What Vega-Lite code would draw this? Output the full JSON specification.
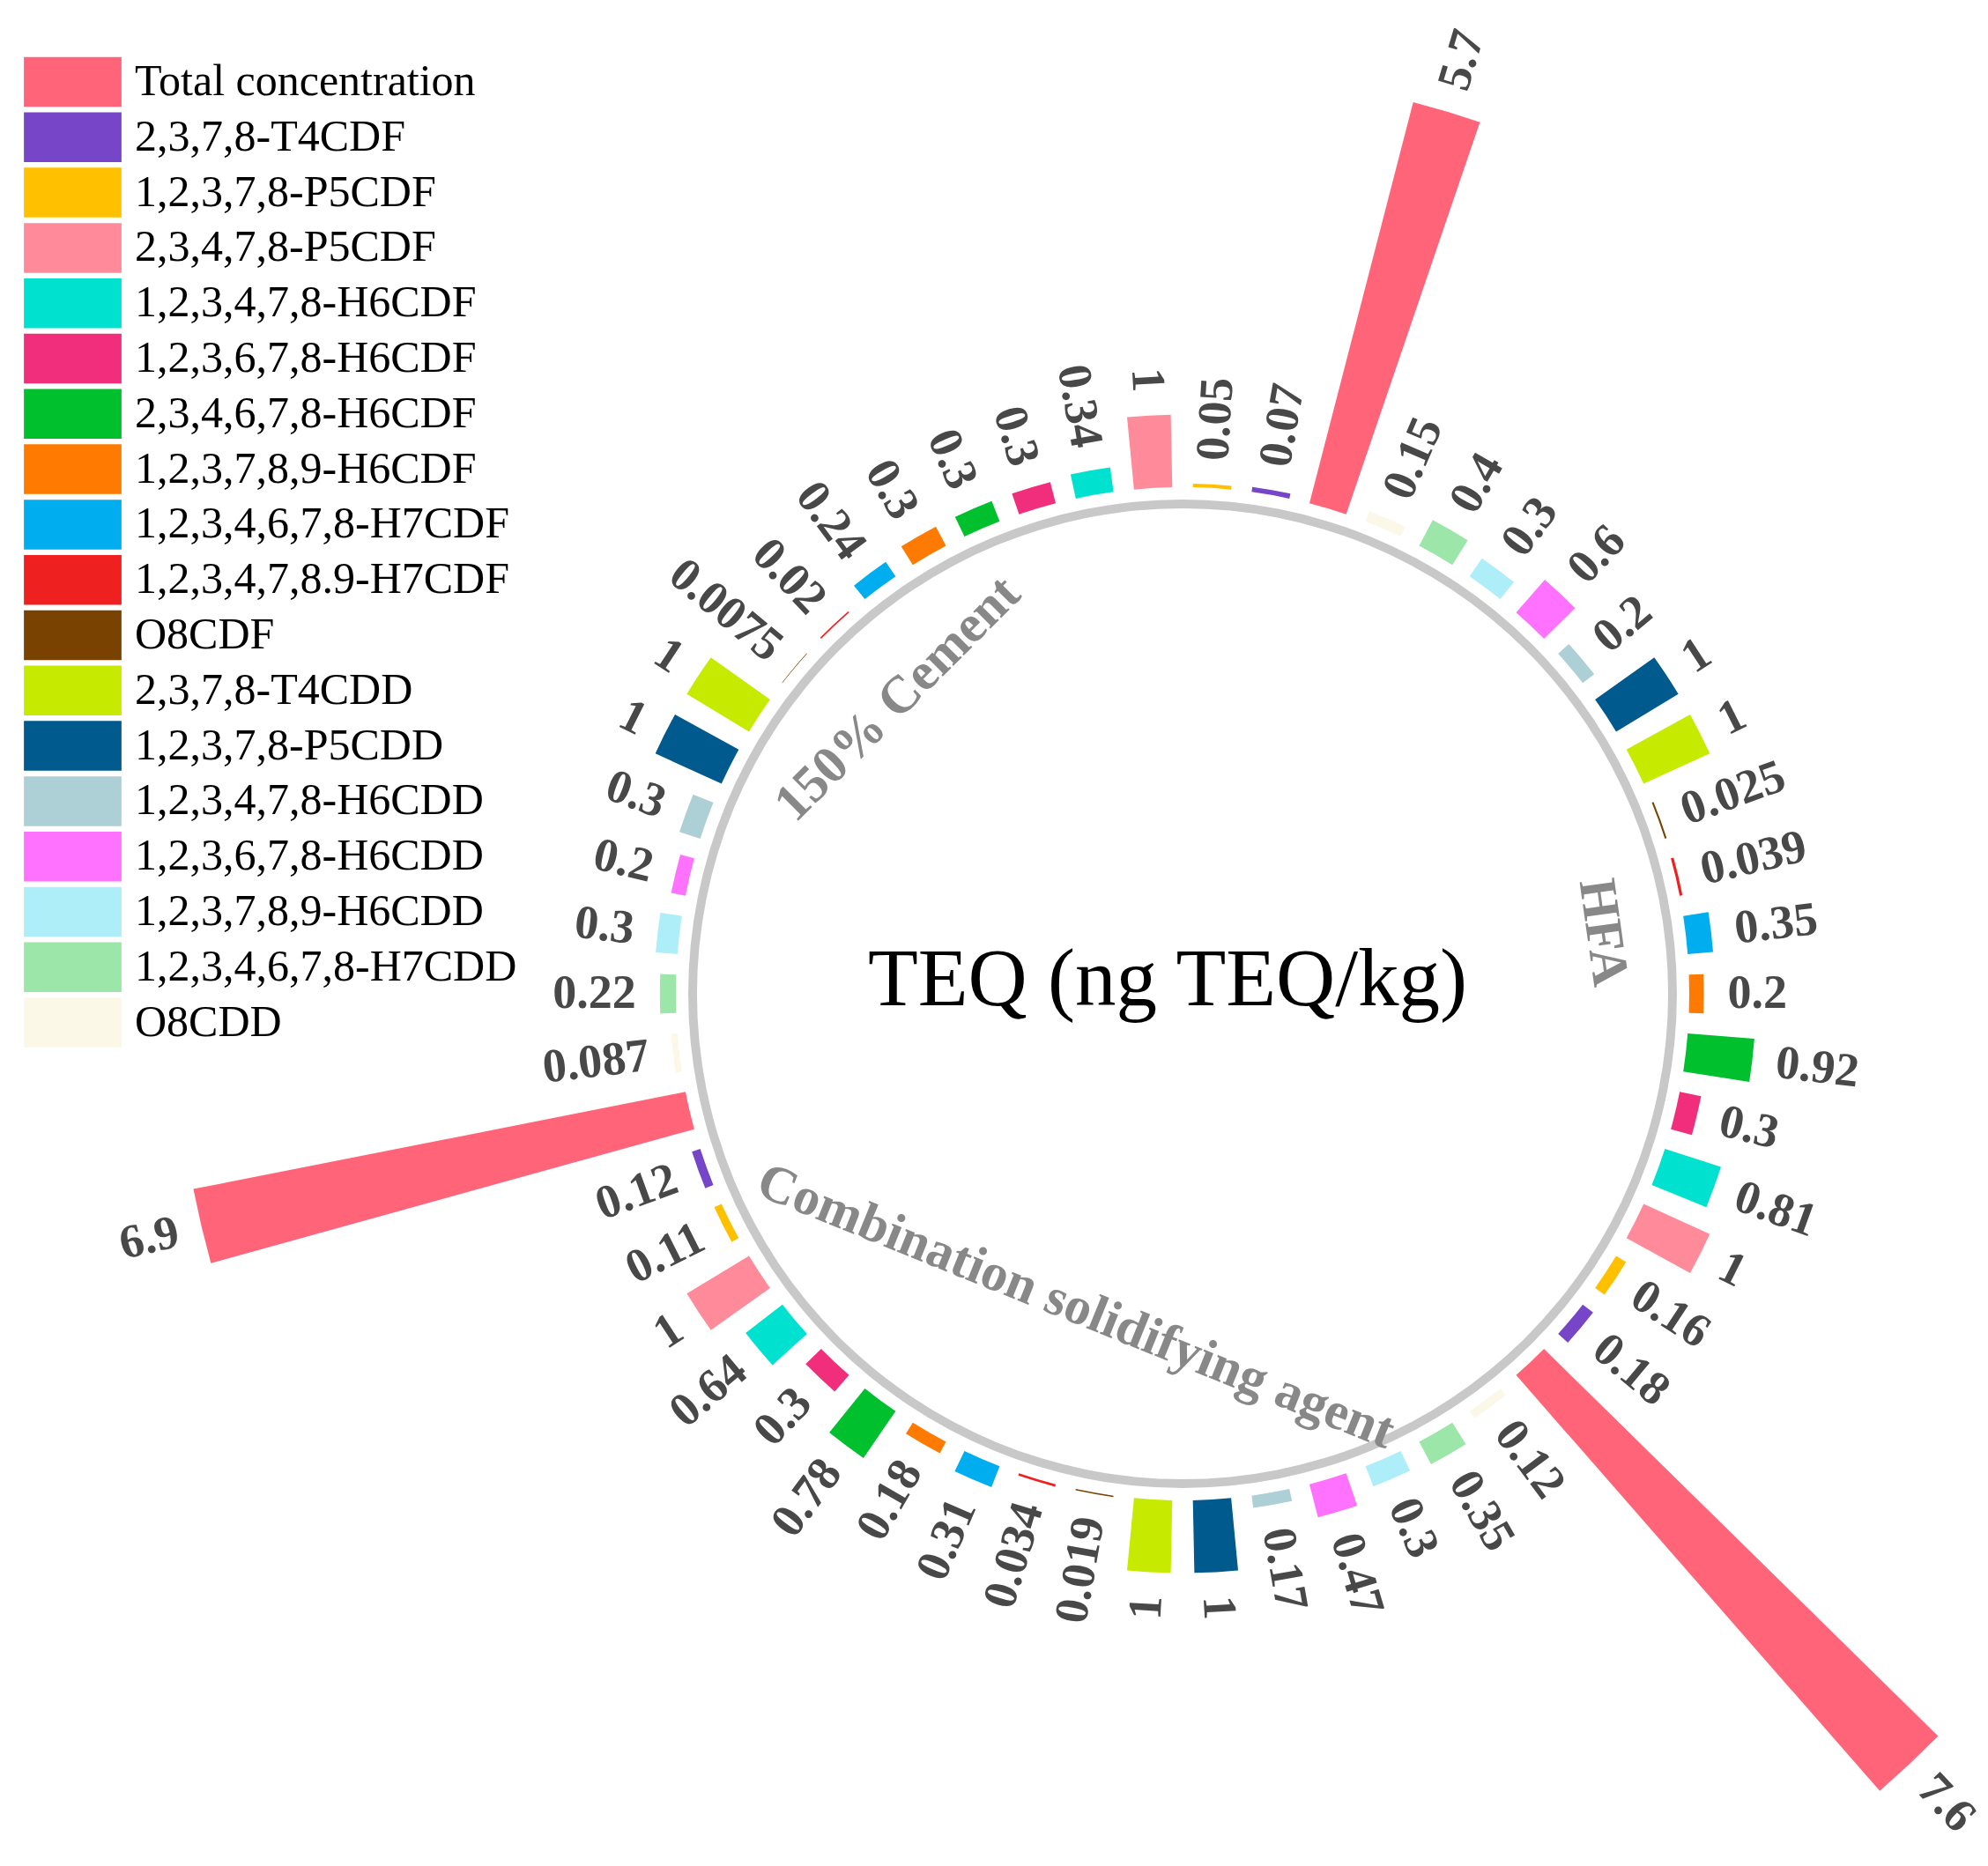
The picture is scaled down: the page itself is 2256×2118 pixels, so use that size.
{
  "$schema": "https://vega.github.io/schema/vega-lite/v6.json",
  "width": 1828,
  "height": 1980,
  "autosize": "none",
  "padding": {"left": 428, "top": 138, "right": 0, "bottom": 0},
  "background": "white",
  "config": {"view": {"stroke": null}},
  "data": {
    "values": [
      {"group": "150% Cement", "congener": "O8CDD", "value": 0.087},
      {"group": "150% Cement", "congener": "1,2,3,4,6,7,8-H7CDD", "value": 0.22},
      {"group": "150% Cement", "congener": "1,2,3,7,8,9-H6CDD", "value": 0.3},
      {"group": "150% Cement", "congener": "1,2,3,6,7,8-H6CDD", "value": 0.2},
      {"group": "150% Cement", "congener": "1,2,3,4,7,8-H6CDD", "value": 0.3},
      {"group": "150% Cement", "congener": "1,2,3,7,8-P5CDD", "value": 1},
      {"group": "150% Cement", "congener": "2,3,7,8-T4CDD", "value": 1},
      {"group": "150% Cement", "congener": "O8CDF", "value": 0.0075},
      {"group": "150% Cement", "congener": "1,2,3,4,7,8.9-H7CDF", "value": 0.02},
      {"group": "150% Cement", "congener": "1,2,3,4,6,7,8-H7CDF", "value": 0.24},
      {"group": "150% Cement", "congener": "1,2,3,7,8,9-H6CDF", "value": 0.3},
      {"group": "150% Cement", "congener": "2,3,4,6,7,8-H6CDF", "value": 0.3},
      {"group": "150% Cement", "congener": "1,2,3,6,7,8-H6CDF", "value": 0.3},
      {"group": "150% Cement", "congener": "1,2,3,4,7,8-H6CDF", "value": 0.34},
      {"group": "150% Cement", "congener": "2,3,4,7,8-P5CDF", "value": 1},
      {"group": "150% Cement", "congener": "1,2,3,7,8-P5CDF", "value": 0.05},
      {"group": "150% Cement", "congener": "2,3,7,8-T4CDF", "value": 0.07},
      {"group": "150% Cement", "congener": "Total concentration", "value": 5.7},
      {"group": "HFA", "congener": "O8CDD", "value": 0.15},
      {"group": "HFA", "congener": "1,2,3,4,6,7,8-H7CDD", "value": 0.4},
      {"group": "HFA", "congener": "1,2,3,7,8,9-H6CDD", "value": 0.3},
      {"group": "HFA", "congener": "1,2,3,6,7,8-H6CDD", "value": 0.6},
      {"group": "HFA", "congener": "1,2,3,4,7,8-H6CDD", "value": 0.2},
      {"group": "HFA", "congener": "1,2,3,7,8-P5CDD", "value": 1},
      {"group": "HFA", "congener": "2,3,7,8-T4CDD", "value": 1},
      {"group": "HFA", "congener": "O8CDF", "value": 0.025},
      {"group": "HFA", "congener": "1,2,3,4,7,8.9-H7CDF", "value": 0.039},
      {"group": "HFA", "congener": "1,2,3,4,6,7,8-H7CDF", "value": 0.35},
      {"group": "HFA", "congener": "1,2,3,7,8,9-H6CDF", "value": 0.2},
      {"group": "HFA", "congener": "2,3,4,6,7,8-H6CDF", "value": 0.92},
      {"group": "HFA", "congener": "1,2,3,6,7,8-H6CDF", "value": 0.3},
      {"group": "HFA", "congener": "1,2,3,4,7,8-H6CDF", "value": 0.81},
      {"group": "HFA", "congener": "2,3,4,7,8-P5CDF", "value": 1},
      {"group": "HFA", "congener": "1,2,3,7,8-P5CDF", "value": 0.16},
      {"group": "HFA", "congener": "2,3,7,8-T4CDF", "value": 0.18},
      {"group": "HFA", "congener": "Total concentration", "value": 7.6},
      {"group": "Combination solidifying agent", "congener": "O8CDD", "value": 0.12},
      {"group": "Combination solidifying agent", "congener": "1,2,3,4,6,7,8-H7CDD", "value": 0.35},
      {"group": "Combination solidifying agent", "congener": "1,2,3,7,8,9-H6CDD", "value": 0.3},
      {"group": "Combination solidifying agent", "congener": "1,2,3,6,7,8-H6CDD", "value": 0.47},
      {"group": "Combination solidifying agent", "congener": "1,2,3,4,7,8-H6CDD", "value": 0.17},
      {"group": "Combination solidifying agent", "congener": "1,2,3,7,8-P5CDD", "value": 1},
      {"group": "Combination solidifying agent", "congener": "2,3,7,8-T4CDD", "value": 1},
      {"group": "Combination solidifying agent", "congener": "O8CDF", "value": 0.019},
      {"group": "Combination solidifying agent", "congener": "1,2,3,4,7,8.9-H7CDF", "value": 0.034},
      {"group": "Combination solidifying agent", "congener": "1,2,3,4,6,7,8-H7CDF", "value": 0.31},
      {"group": "Combination solidifying agent", "congener": "1,2,3,7,8,9-H6CDF", "value": 0.18},
      {"group": "Combination solidifying agent", "congener": "2,3,4,6,7,8-H6CDF", "value": 0.78},
      {"group": "Combination solidifying agent", "congener": "1,2,3,6,7,8-H6CDF", "value": 0.3},
      {"group": "Combination solidifying agent", "congener": "1,2,3,4,7,8-H6CDF", "value": 0.64},
      {"group": "Combination solidifying agent", "congener": "2,3,4,7,8-P5CDF", "value": 1},
      {"group": "Combination solidifying agent", "congener": "1,2,3,7,8-P5CDF", "value": 0.11},
      {"group": "Combination solidifying agent", "congener": "2,3,7,8-T4CDF", "value": 0.12},
      {"group": "Combination solidifying agent", "congener": "Total concentration", "value": 6.9}
    ]
  },
  "layer": [
    {
      "data": {"values": [{"ring": "baseline"}]},
      "mark": {"type": "arc", "theta": 0, "theta2": 6.2832, "color": "#c8c8c8"},
      "encoding": {
        "radius": {"datum": -0.17},
        "radius2": {"datum": -0.29}
      }
    },
    {
      "transform": [{"window": [{"op": "row_number", "as": "idx"}]}],
      "mark": {"type": "arc"},
      "encoding": {
        "theta": {
          "field": "idx", "type": "ordinal",
          "scale": {"type": "band", "range": [-1.745329, 4.537856], "paddingInner": 0.35, "paddingOuter": 0.175}
        },
        "radius": {
          "field": "value", "type": "quantitative", "stack": null,
          "scale": {"type": "linear", "domain": [0, 8], "range": [575, 1235]}
        },
        "radius2": {"datum": 0},
        "color": {
          "field": "congener", "type": "nominal",
          "scale": {
            "domain": ["Total concentration", "2,3,7,8-T4CDF", "1,2,3,7,8-P5CDF", "2,3,4,7,8-P5CDF", "1,2,3,4,7,8-H6CDF", "1,2,3,6,7,8-H6CDF", "2,3,4,6,7,8-H6CDF", "1,2,3,7,8,9-H6CDF", "1,2,3,4,6,7,8-H7CDF", "1,2,3,4,7,8.9-H7CDF", "O8CDF", "2,3,7,8-T4CDD", "1,2,3,7,8-P5CDD", "1,2,3,4,7,8-H6CDD", "1,2,3,6,7,8-H6CDD", "1,2,3,7,8,9-H6CDD", "1,2,3,4,6,7,8-H7CDD", "O8CDD"],
            "range": ["#FF6478", "#7645C8", "#FFC000", "#FF8B9A", "#00E1D0", "#F02E7C", "#00C02E", "#FF7A00", "#00ADEE", "#EE2020", "#7A4200", "#C6EA00", "#005A8D", "#ADCFD6", "#FF72FF", "#AEEEF8", "#9BE6A8", "#FCF8E8"]
          },
          "legend": {
            "title": null,
            "orient": "none",
            "legendX": -374,
            "legendY": -73.5,
            "padding": 0,
            "symbolType": "M-1.96,-1H1.96V1H-1.96Z",
            "symbolSize": 3192,
            "symbolStrokeWidth": 0,
            "symbolOpacity": 1,
            "labelFont": "Liberation Serif",
            "labelFontSize": 50,
            "labelColor": "black",
            "labelOffset": 42,
            "labelLimit": 0,
            "rowPadding": 5.8
          }
        }
      }
    },
    {
      "transform": [
        {"window": [{"op": "row_number", "as": "idx"}]},
        {"filter": "datum.idx >= 16 && datum.idx <= 42"}
      ],
      "mark": {"type": "text", "align": "left", "baseline": "middle", "dx": 27, "font": "Liberation Serif", "fontWeight": "bold", "fontSize": 54, "color": "#484848"},
      "encoding": {
        "theta": {"field": "idx", "type": "ordinal", "bandPosition": 0.5},
        "radius": {"field": "value", "type": "quantitative", "stack": null},
        "text": {"field": "value", "type": "nominal"},
        "angle": {"field": "idx", "type": "quantitative", "scale": {"domain": [0.5, 54.5], "range": [-190, 170]}}
      }
    },
    {
      "transform": [
        {"window": [{"op": "row_number", "as": "idx"}]},
        {"filter": "datum.idx < 16 || datum.idx > 42"}
      ],
      "mark": {"type": "text", "align": "right", "baseline": "middle", "dx": -27, "font": "Liberation Serif", "fontWeight": "bold", "fontSize": 54, "color": "#484848"},
      "encoding": {
        "theta": {"field": "idx", "type": "ordinal", "bandPosition": 0.5},
        "radius": {"field": "value", "type": "quantitative", "stack": null},
        "text": {"field": "value", "type": "nominal"},
        "angle": {"field": "idx", "type": "quantitative", "scale": {"domain": [0.5, 54.5], "range": [-10, 350]}}
      }
    },
    {
      "data": {"values": [{"title": "TEQ (ng TEQ/kg)"}]},
      "mark": {"type": "text", "font": "Liberation Serif", "fontSize": 93, "color": "black", "align": "center", "baseline": "middle", "dx": -17, "dy": -15},
      "encoding": {"text": {"field": "title", "type": "nominal"}}
    },
    {
      "data": {"values": [{"label": "150% Cement"}]},
      "mark": {"type": "text", "font": "Liberation Serif", "fontWeight": "bold", "fontSize": 60, "color": "#888888", "align": "center", "baseline": "middle", "theta": -0.768, "angle": -45},
      "encoding": {"text": {"field": "label", "type": "nominal"}, "radius": {"datum": -1.33}}
    },
    {
      "data": {"values": [{"label": "HFA"}]},
      "mark": {"type": "text", "font": "Liberation Serif", "fontWeight": "bold", "fontSize": 60, "color": "#888888", "align": "center", "baseline": "middle", "theta": 1.426, "angle": 82},
      "encoding": {"text": {"field": "label", "type": "nominal"}, "radius": {"datum": -1.13}}
    },
    {
      "data": {"values": [{"label": "Combination solidifying agent"}]},
      "mark": {"type": "text", "font": "Liberation Serif", "fontWeight": "bold", "fontSize": 60, "color": "#888888", "align": "center", "baseline": "middle", "theta": 3.47, "angle": 22},
      "encoding": {"text": {"field": "label", "type": "nominal"}, "radius": {"datum": -2.42}}
    }
  ],
  "resolve": {"scale": {"angle": "independent"}}
}
